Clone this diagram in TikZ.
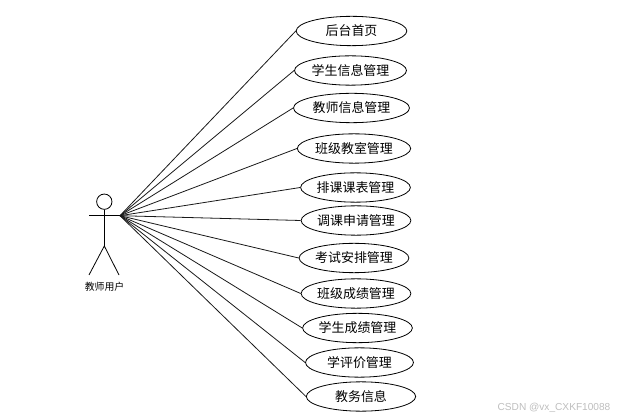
\documentclass[tikz,border=0pt]{standalone}
\usepackage{xcolor}
\usepackage{fontspec}
\setmainfont{Noto Sans CJK SC}
\newfontfamily\markfont{Liberation Sans}
\usetikzlibrary{shapes.geometric}
\definecolor{lineDark}{RGB}{25,25,25}
\definecolor{markGray}{RGB}{190,190,190}
\tikzset{
  usecase/.style={ellipse,draw=black,fill=white,line width=0.6pt,inner sep=0pt,minimum width=81pt,minimum height=22pt,font=\fontsize{9.7}{11}\selectfont},
  assoc/.style={draw=lineDark,line width=0.6pt},
  stick/.style={draw=black,line width=0.6pt}
}
\begin{document}
\begin{tikzpicture}[x=0.75pt,y=-0.75pt]
\useasboundingbox (0,0) rectangle (621,420);
% actor
\node[circle,stick,inner sep=0pt,minimum size=11.5pt] (head) at (104.3,201.7) {};
\coordinate (handleft) at (89,215.7);
\coordinate (handright) at (120,215.7);
\coordinate (hip) at (104.3,246);
\coordinate (footleft) at (89,275);
\coordinate (footright) at (119,275);
\draw[stick] (head) -- (hip);
\draw[stick] (handleft) -- (handright);
\draw[stick] (footleft) -- (hip) -- (footright);
\node[font=\fontsize{7.4}{9}\selectfont] (actorname) at (104.5,287) {教师用户};
% use cases
\node[usecase,minimum width=83pt] (home) at (351.5,31) {后台首页};
\node[usecase,minimum width=84pt] (studinfo) at (350.5,70.5) {学生信息管理};
\node[usecase,minimum width=87pt] (teachinfo) at (351.5,108) {教师信息管理};
\node[usecase,minimum width=85pt] (classroom) at (354,148.5) {班级教室管理};
\node[usecase,minimum width=80pt] (timetable) at (355.5,187.5) {排课课表管理};
\node[usecase,minimum width=81pt] (swapreq) at (356,220.5) {调课申请管理};
\node[usecase,minimum width=82pt] (exams) at (354,258) {考试安排管理};
\node[usecase] (classgrades) at (356,293.5) {班级成绩管理};
\node[usecase] (studgrades) at (357.5,328) {学生成绩管理};
\node[usecase] (evaluation) at (359.5,362.5) {学评价管理};
\node[usecase,minimum width=82pt] (affairs) at (361,396.5) {教务信息};
% associations
\draw[assoc] (handright) -- (home.west);
\draw[assoc] (handright) -- (studinfo.west);
\draw[assoc] (handright) -- (teachinfo.west);
\draw[assoc] (handright) -- (classroom.west);
\draw[assoc] (handright) -- (timetable.west);
\draw[assoc] (handright) -- (swapreq.west);
\draw[assoc] (handright) -- (exams.west);
\draw[assoc] (handright) -- (classgrades.west);
\draw[assoc] (handright) -- (studgrades.west);
\draw[assoc] (handright) -- (evaluation.west);
\draw[assoc] (handright) -- (affairs.west);
% watermark
\node[font=\markfont\fontsize{7.6}{9}\selectfont,text=markGray,inner sep=0pt] (watermark) at (554,408) {CSDN @vx\_CXKF10088};
\end{tikzpicture}
\end{document}
